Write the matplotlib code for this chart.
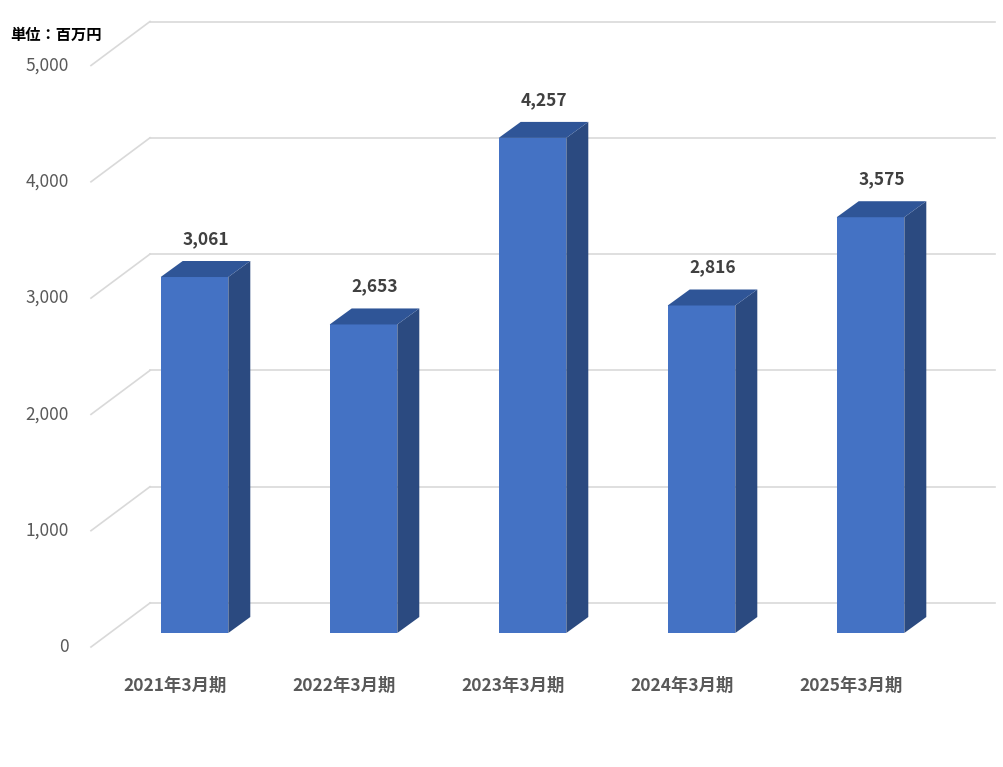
import matplotlib
matplotlib.use("Agg")
import matplotlib.pyplot as plt
import matplotlib.transforms as mt
from matplotlib.patches import Polygon

plt.rcParams['font.family'] = ['Noto Sans CJK JP', 'DejaVu Sans']

categories = ["2021年3月期", "2022年3月期", "2023年3月期", "2024年3月期", "2025年3月期"]
values = [3061, 2653, 4257, 2816, 3575]
yticks = [0, 1000, 2000, 3000, 4000, 5000]
unit_label = "単位：百万円"

fig = plt.figure(figsize=(10.04, 7.67), dpi=100)
ax = fig.add_axes([91/1004, 120/767, 845/1004, 581.5/767])
ax.set_xlim(-0.5, len(categories) - 0.5)
ax.set_ylim(0, 5000)
ax.axis('off')

def off(dx, dy):
    return mt.offset_copy(ax.transData, fig=fig, x=dx, y=dy, units='dots')

BDX, BDY = 59, 44      # floor/wall depth (px)
FDX, FDY = 19, 14      # bar front offset
SDX, SDY = 22, 16      # bar depth
grid_c = '#d9d9d9'
x0, x1 = -0.5, len(categories) - 0.5

for v in yticks:
    # back wall line
    ax.plot([x0, x1], [v, v], color=grid_c, lw=1.2, transform=off(BDX, BDY), clip_on=False)
    # side diagonal
    p0 = ax.transData.transform((x0, v))
    inv = fig.transFigure.inverted()
    a = inv.transform(p0)
    b = inv.transform((p0[0] + BDX, p0[1] + BDY))
    fig.add_artist(plt.Line2D([a[0], b[0]], [a[1], b[1]], color=grid_c, lw=1.2))
    ax.text(x0, v, f"{v:,}", transform=off(-22, 0), ha='right', va='center',
            fontsize=12.5, color='#595959')

w = 0.40
front_c, side_c, top_c = '#4472C4', '#2B4A80', '#2F5597'
tf = off(FDX, FDY)
for i, v in enumerate(values):
    l, r = i - w/2, i + w/2
    ax.add_patch(Polygon([(l, 0), (r, 0), (r, v), (l, v)], closed=True, facecolor=front_c,
                         edgecolor='none', transform=tf, clip_on=False, zorder=3))
    # side and top via display offsets
    pts = [ax.transData.transform(p) for p in [(r, 0), (r, v), (l, v)]]
    pts = [(p[0] + FDX, p[1] + FDY) for p in pts]
    rb, rt, lt = pts
    side = [rb, rt, (rt[0]+SDX, rt[1]+SDY), (rb[0]+SDX, rb[1]+SDY)]
    top = [lt, rt, (rt[0]+SDX, rt[1]+SDY), (lt[0]+SDX, lt[1]+SDY)]
    fig.add_artist(Polygon(side, closed=True, facecolor=side_c, edgecolor='none',
                           transform=None, zorder=3))
    fig.add_artist(Polygon(top, closed=True, facecolor=top_c, edgecolor='none',
                           transform=None, zorder=3))
    ax.text(i, v, f"{v:,}", transform=off(FDX + SDX/2, FDY + SDY + 22), ha='center',
            va='center', fontsize=12.5, fontweight='bold', color='#404040')
    ax.text(i, 0, categories[i], transform=off(0, -39), ha='center', va='center',
            fontsize=12.5, fontweight='bold', color='#595959')

fig.text(10/1004, 1 - 35/767, unit_label, ha='left', va='center', fontsize=11,
         fontweight='bold', color='#000000')

fig.savefig('out.png', dpi=100)
